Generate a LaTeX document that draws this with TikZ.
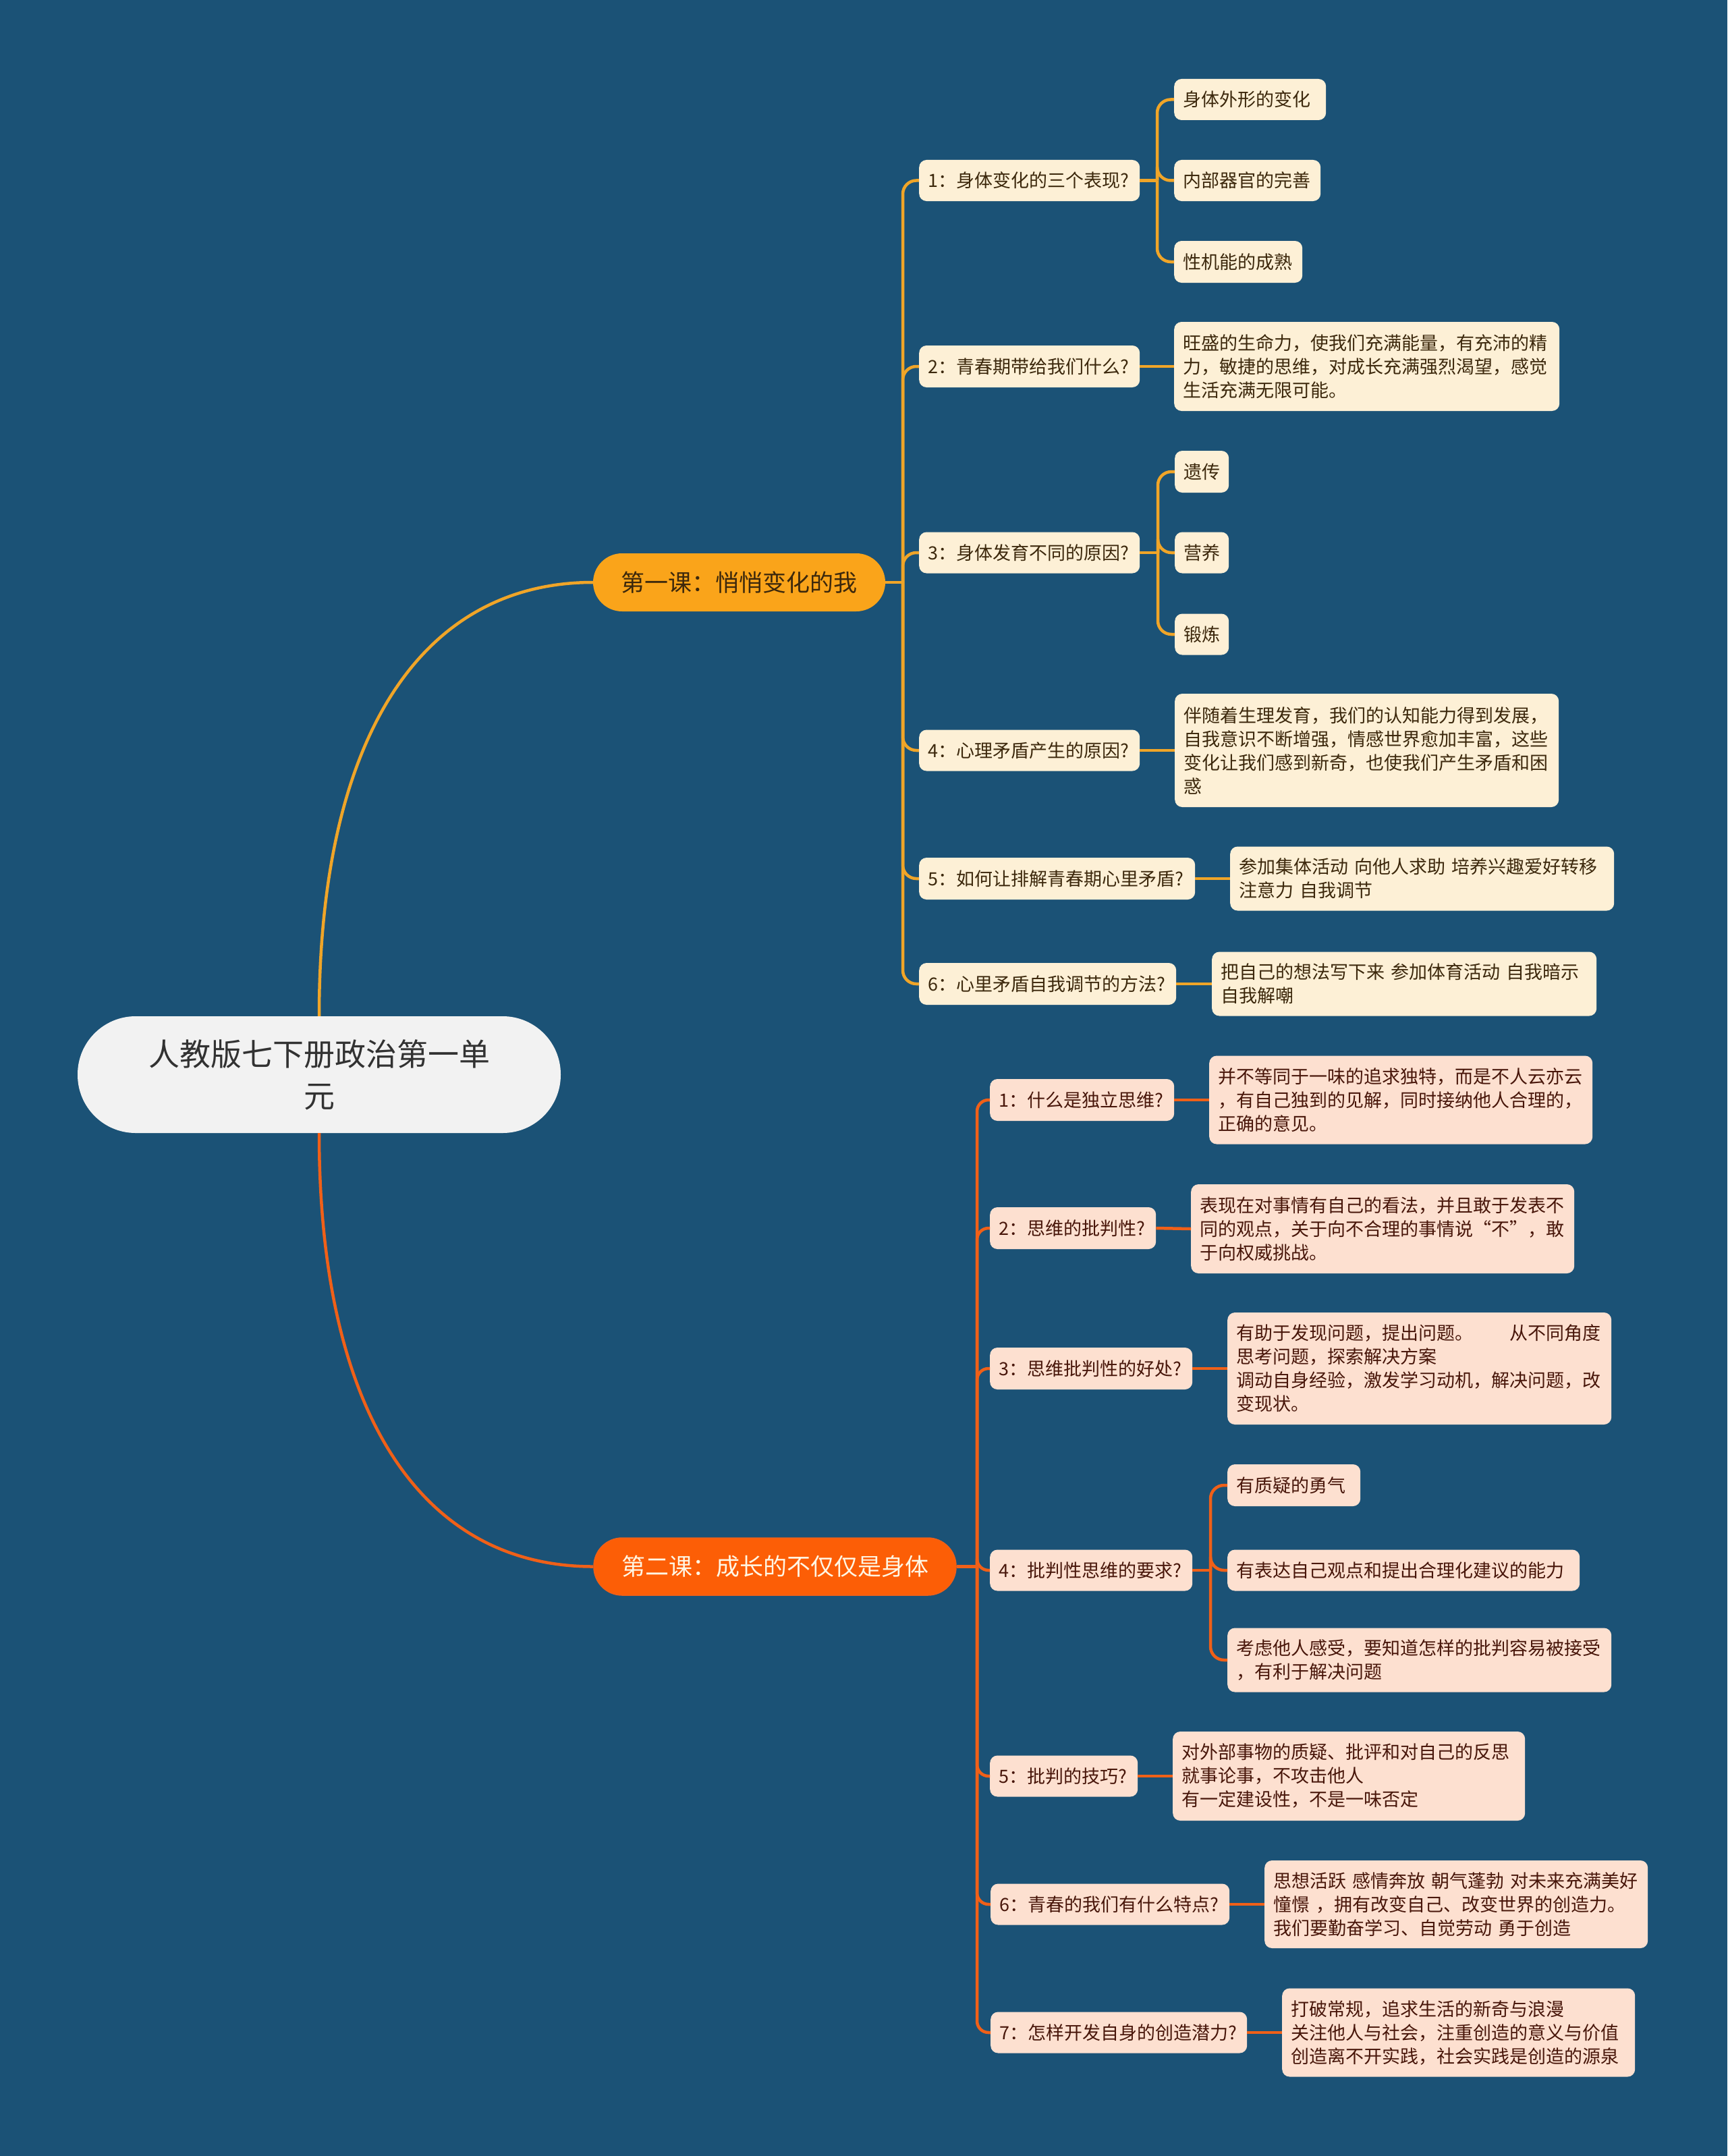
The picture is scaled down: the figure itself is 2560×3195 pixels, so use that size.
\documentclass[tikz,border=0pt]{standalone}
\usepackage{fontspec}
\setmainfont{Noto Sans CJK SC}
\definecolor{bg}{RGB}{27,82,118}
\definecolor{o1}{RGB}{250,164,26}
\definecolor{l1c}{RGB}{240,165,40}
\definecolor{f1}{RGB}{253,240,214}
\definecolor{t1}{RGB}{60,40,12}
\definecolor{o2}{RGB}{252,94,6}
\definecolor{l2c}{RGB}{240,96,24}
\definecolor{f2}{RGB}{253,224,208}
\definecolor{t2}{RGB}{72,22,10}
\definecolor{rootf}{RGB}{242,242,242}
\definecolor{roott}{RGB}{50,50,50}
\definecolor{cream}{RGB}{255,246,228}
\tikzset{
  box/.style={rectangle, rounded corners=11, anchor=west, inner xsep=13, inner ysep=0, align=left, font=\fontsize{27}{35}\selectfont},
  boxA/.style={box, fill=f1, text=t1},
  boxB/.style={box, fill=f2, text=t2},
  ln1/.style={draw=l1c, line width=4.5},
  ln2/.style={draw=l2c, line width=4.5},
}
\begin{document}
\begin{tikzpicture}[x=1pt,y=-1pt]
\useasboundingbox (0,0) rectangle (2560,3195);
\fill[bg] (0,0) rectangle (2560,3195);

% root and main branches
\node[fill=rootf, text=roott, rounded corners=86, minimum width=716, minimum height=173, inner sep=0, align=center, font=\fontsize{46}{62}\selectfont] (root) at (473,1592.5) {人教版七下册政治第一单\\元};
\node[fill=o1, text=t1, rounded corners=43, minimum width=433, minimum height=86, inner sep=0, font=\fontsize{35}{42}\selectfont] (L1) at (1095.5,863) {第一课：悄悄变化的我};
\node[fill=o2, draw=l2c, line width=1.5, text=cream, rounded corners=42, minimum width=537, minimum height=85, inner sep=0, font=\fontsize{35}{42}\selectfont] (L2) at (1148.5,2321.5) {第二课：成长的不仅仅是身体};

% lesson 1 questions
\node[boxA, text width=301, minimum height=61] (a1) at (1362,267.5) {1：身体变化的三个表现?};
\node[boxA, text width=301, minimum height=62] (a2) at (1362,543) {2：青春期带给我们什么?};
\node[boxA, text width=301, minimum height=61] (a3) at (1362,819) {3：身体发育不同的原因?};
\node[boxA, text width=301, minimum height=61] (a4) at (1362,1112) {4：心理矛盾产生的原因?};
\node[boxA, text width=383, minimum height=62] (a5) at (1362,1302) {5：如何让排解青春期心里矛盾?};
\node[boxA, text width=355, minimum height=62] (a6) at (1362,1458) {6：心里矛盾自我调节的方法?};

% lesson 1 answers
\node[boxA, text width=199, minimum height=61] (a1x) at (1740,147.5) {身体外形的变化};
\node[boxA, text width=191, minimum height=61] (a1y) at (1740,267.5) {内部器官的完善};
\node[boxA, text width=164, minimum height=62] (a1z) at (1740,388) {性机能的成熟};
\node[boxA, text width=545, minimum height=132] (a2x) at (1740,543) {旺盛的生命力，使我们充满能量，有充沛的精\\力，敏捷的思维，对成长充满强烈渴望，感觉\\生活充满无限可能。};
\node[boxA, text width=54, minimum height=62] (a3x) at (1741,699) {遗传};
\node[boxA, text width=54, minimum height=61] (a3y) at (1741,819) {营养};
\node[boxA, text width=54, minimum height=61] (a3z) at (1741,940) {锻炼};
\node[boxA, text width=543, minimum height=168] (a4x) at (1741,1112) {伴随着生理发育，我们的认知能力得到发展，\\自我意识不断增强，情感世界愈加丰富，这些\\变化让我们感到新奇，也使我们产生矛盾和困\\惑};
\node[boxA, text width=543, minimum height=95] (a5x) at (1823,1302) {参加集体活动 向他人求助 培养兴趣爱好转移\\注意力 自我调节};
\node[boxA, text width=544, minimum height=95] (a6x) at (1796,1458) {把自己的想法写下来 参加体育活动 自我暗示\\自我解嘲};

% lesson 2 questions
\node[boxB, text width=247, minimum height=62] (b1) at (1467,1630) {1：什么是独立思维?};
\node[boxB, text width=220, minimum height=62] (b2) at (1467,1820) {2：思维的批判性?};
\node[boxB, text width=274, minimum height=62] (b3) at (1467,2028) {3：思维批判性的好处?};
\node[boxB, text width=274, minimum height=61] (b4) at (1467,2327) {4：批判性思维的要求?};
\node[boxB, text width=193, minimum height=61] (b5) at (1467,2632) {5：批判的技巧?};
\node[boxB, text width=328, minimum height=61] (b6) at (1468,2822) {6：青春的我们有什么特点?};
\node[boxB, text width=354, minimum height=61] (b7) at (1468,3012) {7：怎样开发自身的创造潜力?};

% lesson 2 answers
\node[boxB, text width=542, minimum height=131] (b1x) at (1792,1630) {并不等同于一味的追求独特，而是不人云亦云\\，有自己独到的见解，同时接纳他人合理的，\\正确的意见。};
\node[boxB, text width=542, minimum height=132] (b2x) at (1765,1821) {表现在对事情有自己的看法，并且敢于发表不\\同的观点，关于向不合理的事情说“不”，敢\\于向权威挑战。};
\node[boxB, text width=543, minimum height=166] (b3x) at (1819,2028) {有助于发现问题，提出问题。　　从不同角度\\思考问题，探索解决方案\\调动自身经验，激发学习动机，解决问题，改\\变现状。};
\node[boxB, text width=171, minimum height=62] (b4x) at (1819,2201) {有质疑的勇气};
\node[boxB, text width=496, minimum height=61] (b4y) at (1819,2327) {有表达自己观点和提出合理化建议的能力};
\node[boxB, text width=543, minimum height=95] (b4z) at (1819,2460) {考虑他人感受，要知道怎样的批判容易被接受\\，有利于解决问题};
\node[boxB, text width=496, minimum height=132] (b5x) at (1738,2632) {对外部事物的质疑、批评和对自己的反思\\就事论事，不攻击他人\\有一定建设性，不是一味否定};
\node[boxB, text width=542, minimum height=130] (b6x) at (1874,2822) {思想活跃 感情奔放 朝气蓬勃 对未来充满美好\\憧憬 ，拥有改变自己、改变世界的创造力。\\我们要勤奋学习、自觉劳动 勇于创造};
\node[boxB, text width=497, minimum height=131] (b7x) at (1900,3012) {打破常规，追求生活的新奇与浪漫\\关注他人与社会，注重创造的意义与价值\\创造离不开实践，社会实践是创造的源泉};

% junctions
\coordinate (J1) at (1338,863);
\coordinate (J2) at (1448,2321.5);
\coordinate (Ja1) at (1715,267.5);
\coordinate (Ja3) at (1716,819);
\coordinate (Jb4) at (1794,2327);

% root connectors
\draw[ln1] (root.north) .. controls +(0,-406) and +(-259,0) .. (L1.west);
\draw[ln2] (root.south) .. controls +(0,406) and +(-260,0) .. (L2.west);

% lesson 1 tree
\draw[ln1] (L1.east) -- (J1);
\foreach \c in {a1,a2,a3,a4,a5,a6} \draw[ln1, rounded corners=20] (J1) |- (\c.west);
\draw[ln1] (a1.east) -- (Ja1);
\foreach \c in {a1x,a1y,a1z} \draw[ln1, rounded corners=20] (Ja1) |- (\c.west);
\draw[ln1] (a3.east) -- (Ja3);
\foreach \c in {a3x,a3y,a3z} \draw[ln1, rounded corners=20] (Ja3) |- (\c.west);
\draw[ln1] (a2.east) -- (a2x.west);
\draw[ln1] (a4.east) -- (a4x.west);
\draw[ln1] (a5.east) -- (a5x.west);
\draw[ln1] (a6.east) -- (a6x.west);

% lesson 2 tree
\draw[ln2] (L2.east) -- (J2);
\foreach \c in {b1,b2,b3,b4,b5,b6,b7} \draw[ln2, rounded corners=17] (J2) |- (\c.west);
\draw[ln2] (b4.east) -- (Jb4);
\foreach \c in {b4x,b4y,b4z} \draw[ln2, rounded corners=20] (Jb4) |- (\c.west);
\draw[ln2] (b1.east) -- (b1x.west);
\draw[ln2] (b2.east) -- (b2x.west);
\draw[ln2] (b3.east) -- (b3x.west);
\draw[ln2] (b5.east) -- (b5x.west);
\draw[ln2] (b6.east) -- (b6x.west);
\draw[ln2] (b7.east) -- (b7x.west);
\end{tikzpicture}
\end{document}
